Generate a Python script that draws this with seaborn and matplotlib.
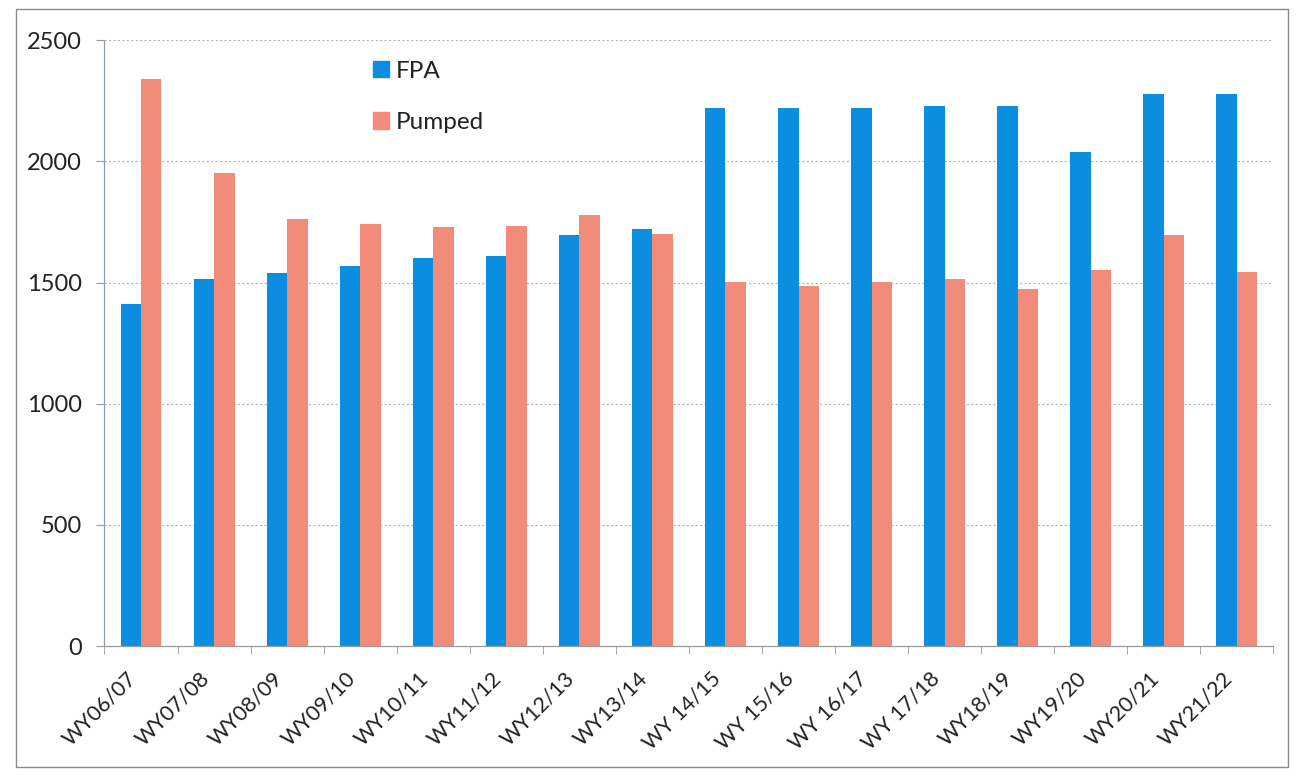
import matplotlib
matplotlib.use("Agg")
import matplotlib.pyplot as plt
import matplotlib.patches as mpatches
import matplotlib.transforms as mtransforms
import numpy as np
import pandas as pd
import seaborn as sns

years = ["WY06/07", "WY07/08", "WY08/09", "WY09/10", "WY10/11", "WY11/12",
         "WY12/13", "WY13/14", "WY 14/15", "WY 15/16", "WY 16/17", "WY 17/18",
         "WY18/19", "WY19/20", "WY20/21", "WY21/22"]
fpa = [1410, 1515, 1540, 1570, 1600, 1608, 1698, 1720,
       2222, 2222, 2220, 2230, 2228, 2040, 2280, 2278]
pumped = [2340, 1950, 1762, 1742, 1728, 1734, 1780, 1702,
          1503, 1486, 1503, 1515, 1475, 1552, 1698, 1543]
series = ["FPA", "Pumped"]
colors = ["#0B8EDF", "#F28C7A"]

df = pd.DataFrame({
    "year": years * 2,
    "value": fpa + pumped,
    "series": ["FPA"] * len(years) + ["Pumped"] * len(years),
})

sns.set_style("white")
plt.rcParams["font.family"] = ["Lato", "DejaVu Sans"]

fig = plt.figure(figsize=(13.01, 7.76), dpi=100)
ax = fig.add_axes([0.0803, 0.1675, 0.8985, 0.7807])

sns.barplot(data=df, x="year", y="value", hue="series", hue_order=series,
            palette=colors, width=0.56, saturation=1, linewidth=0,
            ax=ax, legend=False)

ax.set_xlim(-0.5, len(years) - 0.5)
ax.set_ylim(0, 2500)
ax.set_yticks([0, 500, 1000, 1500, 2000, 2500])
ax.set_xlabel("")
ax.set_ylabel("")

ax.grid(axis="y", color="#b5b5b5", linestyle=(0, (2, 2)), linewidth=0.8)
ax.set_axisbelow(True)
for s in ["top", "right"]:
    ax.spines[s].set_visible(False)
ax.spines["left"].set_color("#8f9ab5")
ax.spines["bottom"].set_color("#9a9a9a")
ax.spines["left"].set_linewidth(0.9)
ax.spines["bottom"].set_linewidth(0.9)

ax.tick_params(axis="y", left=True, length=6, color="#999999", pad=10,
               labelsize=17, labelcolor="#222222")
ax.tick_params(axis="x", which="major", length=0, pad=21,
               labelsize=15.5, labelcolor="#222222")
ax.set_xticks(np.arange(-0.5, len(years)), minor=True)
ax.tick_params(axis="x", which="minor", bottom=True, length=6, color="#999999")
shift = mtransforms.ScaledTranslation(-8 / 100, 0, fig.dpi_scale_trans)
for lbl in ax.get_xticklabels():
    lbl.set_rotation(45)
    lbl.set_ha("right")
    lbl.set_va("center")
    lbl.set_rotation_mode("anchor")
    lbl.set_transform(lbl.get_transform() + shift)

handles = [mpatches.Patch(color=c) for c in colors]
fig.legend(handles, series, loc="upper left", bbox_to_anchor=(0.27, 0.95),
           frameon=False, fontsize=17.5, handlelength=0.65, handleheight=0.65,
           handletextpad=0.3, labelspacing=1.25, labelcolor="#222222")

fig.patches.append(mpatches.Rectangle((0.012, 0.011), 0.978, 0.978,
                                      transform=fig.transFigure, fill=False,
                                      edgecolor="#8a8a8a", linewidth=1))

fig.savefig("out.png", dpi=100)
